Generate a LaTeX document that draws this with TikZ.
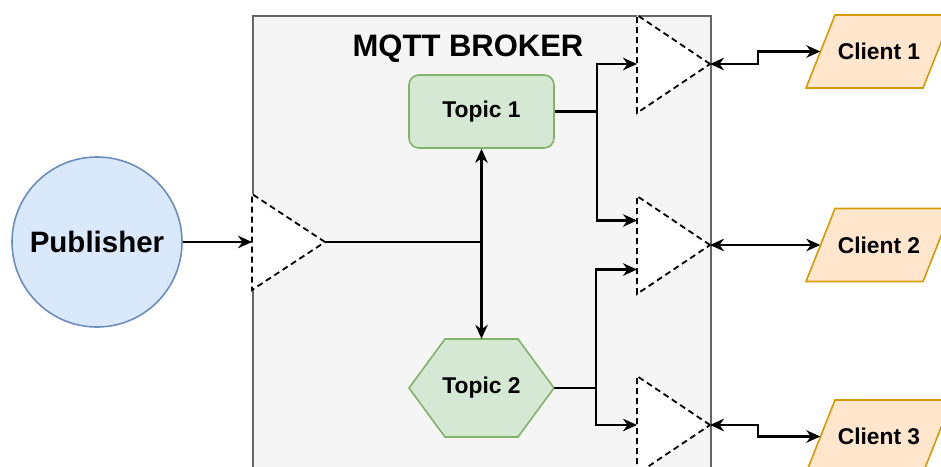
\documentclass[tikz,border=0pt]{standalone}
\usepackage{fontspec}
\setmainfont{Liberation Sans}
\usetikzlibrary{arrows.meta,calc}

\definecolor{brokerfill}{HTML}{F5F5F5}
\definecolor{brokerline}{HTML}{666666}
\definecolor{topicfill}{HTML}{D5E8D4}
\definecolor{topicline}{HTML}{82B366}
\definecolor{pubfill}{HTML}{DAE8FC}
\definecolor{publine}{HTML}{6C8EBF}
\definecolor{clientfill}{HTML}{FFE6CC}
\definecolor{clientline}{HTML}{D79B00}

\tikzset{
  headtip/.tip={Stealth[length=14pt,width=12.5pt,inset=4.5pt]},
  lbl/.style={font=\bfseries\fontsize{22.8}{26}\selectfont, text=black},
  topicbox/.style={draw=topicline, fill=topicfill, line width=1.6pt,
    minimum width=145pt, minimum height=73pt, inner sep=0pt,
    rounded corners=10pt, lbl},
  clientshape/.style={draw=clientline, fill=clientfill, line width=1.6pt},
  clientbox/.style={minimum width=117pt, minimum height=73pt, inner sep=0pt, lbl},
  gate/.style={draw=black, fill=white, line width=1.8pt, dash pattern=on 6pt off 4pt},
  flow/.style={draw=black, line width=2.1pt, -headtip},
  duplex/.style={draw=black, line width=2.1pt, headtip-headtip},
}

\begin{document}
\begin{tikzpicture}[x=1pt, y=-1pt]
  \useasboundingbox (0,0) rectangle (941,466);
  \clip (0,0) rectangle (941,466);

  % broker container
  \node[draw=brokerline, fill=brokerfill, line width=1.6pt, inner sep=0pt,
        minimum width=458pt, minimum height=480pt, anchor=north west]
        (broker) at (252,15) {};
  \node[font=\bfseries\fontsize{31}{35}\selectfont, anchor=base]
        (title) at (468,56.7) {MQTT BROKER};

  % publisher
  \node[circle, draw=publine, fill=pubfill, line width=1.6pt, minimum size=170pt,
        inner sep=0pt, font=\bfseries\fontsize{29.5}{33}\selectfont]
        (pub) at (97,242) {Publisher};

  % topics
  \node[topicbox] (topic1) at (481.5,111.5) {Topic 1};
  \coordinate (t2c) at (481.5,388);
  \draw[draw=topicline, fill=topicfill, line width=1.6pt]
    ($(t2c)+(-72.5,0)$) -- ($(t2c)+(-36.5,-49)$) -- ($(t2c)+(36.5,-49)$)
    -- ($(t2c)+(72.5,0)$) -- ($(t2c)+(36.5,49)$) -- ($(t2c)+(-36.5,49)$) -- cycle;
  \node[lbl, minimum width=145pt, minimum height=98pt, inner sep=0pt]
        (topic2) at (t2c) {Topic 2};

  % dashed gates
  \coordinate (g0top) at (252,194);
  \coordinate (g0bot) at (252,290);
  \coordinate (g0tip) at (325,242);
  \draw[gate] (g0tip) -- (g0top) -- (g0bot) -- cycle;
  \coordinate (g0in) at ($(g0top)!0.5!(g0bot)$);

  \coordinate (g1top) at (637,15);
  \coordinate (g1bot) at (637,113);
  \coordinate (g1tip) at (710,64);
  \draw[gate] (g1tip) -- (g1top) -- (g1bot) -- cycle;
  \coordinate (g1in) at ($(g1top)!0.5!(g1bot)$);

  \coordinate (g2top) at (637,196);
  \coordinate (g2bot) at (637,294);
  \coordinate (g2tip) at (710,245);
  \draw[gate] (g2tip) -- (g2top) -- (g2bot) -- cycle;
  \coordinate (g2inA) at ($(g2top)!0.25!(g2bot)$);
  \coordinate (g2inB) at ($(g2top)!0.75!(g2bot)$);

  \coordinate (g3top) at (637,376);
  \coordinate (g3bot) at (637,474);
  \coordinate (g3tip) at (710,425);
  \draw[gate] (g3tip) -- (g3top) -- (g3bot) -- cycle;
  \coordinate (g3in) at ($(g3top)!0.5!(g3bot)$);

  % clients: slanted boxes, text node on top
  \foreach \n/\cy in {1/51.5, 2/245, 3/436.5} {
    \coordinate (cc\n) at (879,\cy);
    \draw[clientshape]
      ($(cc\n)+(-73,36.5)$) -- ($(cc\n)+(-44,-36.5)$) -- ($(cc\n)+(73,-36.5)$)
      -- ($(cc\n)+(44,36.5)$) -- cycle;
  }
  \node[clientbox] (client1) at (cc1) {Client 1};
  \node[clientbox] (client2) at (cc2) {Client 2};
  \node[clientbox] (client3) at (cc3) {Client 3};

  % connectors
  \draw[flow] (pub) -- (g0in);
  \draw[flow] (g0tip) -| (topic1.south);
  \draw[flow] (g0tip) -| (topic2.north);

  \draw[flow] (topic1.east) -- ++(42,0) |- (g1in);
  \draw[flow] (topic1.east) -- ++(42,0) |- (g2inA);
  \draw[flow] (topic2.east) -- ++(42,0) |- (g2inB);
  \draw[flow] (topic2.east) -- ++(42,0) |- (g3in);

  \draw[duplex] (g1tip) -- ++(48,0) |- (client1.west);
  \draw[duplex] (g2tip) -- (client2.west);
  \draw[duplex] (g3tip) -- ++(48,0) |- (client3.west);
\end{tikzpicture}
\end{document}
